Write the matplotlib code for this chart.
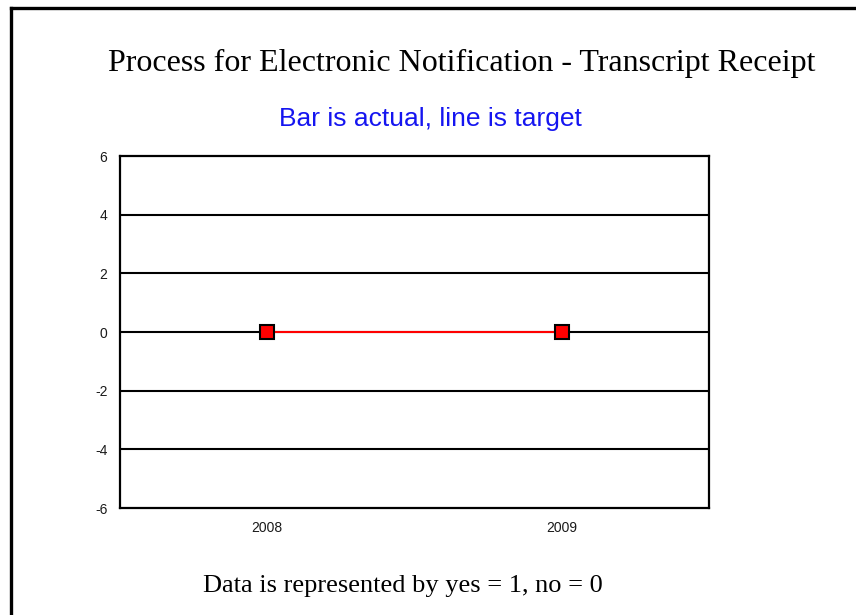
import matplotlib.pyplot as plt
from matplotlib.lines import Line2D

# chart data
years = ["2008", "2009"]
actual = [0, 0]
target = [0, 0]
y_ticks = [-6, -4, -2, 0, 2, 4, 6]


def main():
    fig = plt.figure(figsize=(8.56, 6.15), dpi=100)
    ax = fig.add_axes([120 / 856, 1 - 508 / 615, 589 / 856, 352 / 615])

    x = list(range(len(years)))

    # grid lines behind the data
    for yv in y_ticks[1:-1]:
        ax.axhline(yv, color="black", lw=1.5, zorder=1)

    # actual values as bars (zero height here)
    ax.bar(x, actual, width=0.4, color="#3060c0", zorder=2)

    # target line with square markers
    ax.plot(x, target, color="red", lw=1.5, marker="s", ms=10.5,
            markerfacecolor="red", markeredgecolor="black", markeredgewidth=1.5, zorder=3)

    ax.set_xlim(-0.5, 1.5)
    ax.set_ylim(-6, 6)
    ax.set_xticks(x)
    ax.set_xticklabels(years)
    ax.set_yticks(y_ticks)
    ax.set_yticklabels([str(v) for v in y_ticks])
    ax.tick_params(length=0, pad=9, labelsize=10, labelcolor="#1a1a1a")
    for lab in ax.get_xticklabels() + ax.get_yticklabels():
        lab.set_family("Liberation Sans")
    for sp in ax.spines.values():
        sp.set_linewidth(1.6)

    fig.text(462 / 856, 1 - 71 / 615, "Process for Electronic Notification - Transcript Receipt",
             ha="center", va="baseline", fontsize=23, family="Liberation Serif")
    fig.text(430 / 856, 1 - 126 / 615, "Bar is actual, line is target",
             ha="center", va="baseline", fontsize=19, color="#1515f0", family="Liberation Sans")
    fig.text(403 / 856, 1 - 592 / 615, "Data is represented by yes = 1, no = 0",
             ha="center", va="baseline", fontsize=19, family="Liberation Serif")

    # slide border on the left and top edges
    fig.add_artist(Line2D([10.5 / 856, 10.5 / 856], [0, 1 - 7.5 / 615], color="black", lw=2.4,
                          transform=fig.transFigure, solid_capstyle="projecting"))
    fig.add_artist(Line2D([10.5 / 856, 1], [1 - 7.5 / 615, 1 - 7.5 / 615], color="black", lw=2.4,
                          transform=fig.transFigure, solid_capstyle="projecting"))

    fig.savefig("out.png", dpi=100)


if __name__ == "__main__":
    main()
